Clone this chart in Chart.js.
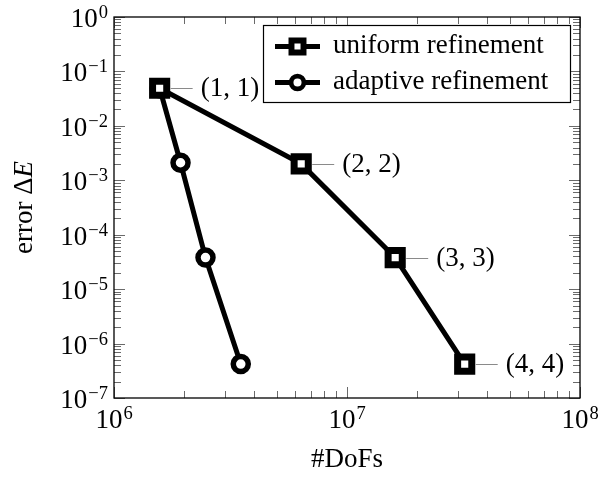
<!DOCTYPE html>
<html>
<head>
<meta charset="utf-8">
<script src="https://cdn.jsdelivr.net/npm/chart.js@4/dist/chart.umd.min.js"></script>
<style>
  html, body { margin: 0; padding: 0; background: #fff; }
  #wrap { width: 603px; height: 477px; }
</style>
</head>
<body>
<div id="wrap"><canvas id="c" width="603" height="477"></canvas></div>
<script>
// Degrees of freedom and energy error for both refinement strategies
const dofsUniform   = [1.57e6, 6.36e6, 1.61e7, 3.2e7];
const errorUniform  = [0.049, 2.0e-3, 3.8e-5, 4.2e-7];
const dofsAdaptive  = [1.57e6, 1.93e6, 2.47e6, 3.5e6];
const errorAdaptive = [0.049, 2.1e-3, 3.8e-5, 4.2e-7];

// Polynomial degree annotations on the uniform series
const uniformPins = ['(1, 1)', '(2, 2)', '(3, 3)', '(4, 4)'];

const seriesNames = ['uniform refinement', 'adaptive refinement'];

// Axis ranges (powers of ten) and titles
const xDecades = [6, 7, 8];
const yDecades = [-7, -6, -5, -4, -3, -2, -1, 0];
const xTitle = '#DoFs';
const yTitleText = 'error Δ';
const yTitleVar = 'E';

const SERIF = '"Liberation Serif", "DejaVu Serif", serif';
const FONT_SIZE = 27;
const SUP_SIZE = 18.5;

// all 1..9 x 10^n values inside [min, max]
function logTicks(min, max) {
  const out = [];
  const lo = Math.floor(Math.log10(min));
  const hi = Math.ceil(Math.log10(max));
  for (let e = lo; e <= hi; e++) {
    for (let m = 1; m <= 9; m++) {
      const v = m * Math.pow(10, e);
      if (v >= min * 0.999999 && v <= max * 1.000001) out.push({ value: v });
    }
  }
  return out;
}

function isDecade(v) {
  const l = Math.log10(v);
  return Math.abs(l - Math.round(l)) < 1e-9;
}

function expText(n) {
  return n < 0 ? '\u2212' + Math.abs(n) : String(n);
}

function toPoints(xs, ys) {
  return xs.map((x, i) => ({ x: x, y: ys[i] }));
}

// inward ticks on all four sides plus the frame
const framePlugin = {
  id: 'frame',
  beforeDatasetsDraw(chart) {
    const ctx = chart.ctx;
    const ca = chart.chartArea;
    const xs = chart.scales.x, ys = chart.scales.y;
    ctx.save();
    ctx.strokeStyle = '#6a6a6a';
    ctx.lineWidth = 1;
    xs.ticks.forEach(t => {
      const px = Math.round(xs.getPixelForValue(t.value)) + 0.5;
      const len = isDecade(t.value) ? 11 : 7;
      ctx.beginPath();
      ctx.moveTo(px, ca.bottom); ctx.lineTo(px, ca.bottom - len);
      ctx.moveTo(px, ca.top); ctx.lineTo(px, ca.top + len);
      ctx.stroke();
    });
    ys.ticks.forEach(t => {
      const py = Math.round(ys.getPixelForValue(t.value)) + 0.5;
      const len = isDecade(t.value) ? 11 : 7;
      ctx.beginPath();
      ctx.moveTo(ca.left, py); ctx.lineTo(ca.left + len, py);
      ctx.moveTo(ca.right, py); ctx.lineTo(ca.right - len, py);
      ctx.stroke();
    });
    ctx.strokeStyle = '#000';
    ctx.lineWidth = 1.3;
    ctx.strokeRect(ca.left, ca.top, ca.right - ca.left, ca.bottom - ca.top);
    ctx.restore();
  },
  afterDraw(chart) {
    const ctx = chart.ctx;
    const ca = chart.chartArea;
    const xs = chart.scales.x, ys = chart.scales.y;
    ctx.save();
    ctx.fillStyle = '#000';
    ctx.textBaseline = 'alphabetic';
    ctx.textAlign = 'left';
    const base = FONT_SIZE + 'px ' + SERIF;
    const sup = SUP_SIZE + 'px ' + SERIF;

    // x tick labels 10^n
    xDecades.forEach(n => {
      const px = xs.getPixelForValue(Math.pow(10, n));
      ctx.font = base; const w1 = ctx.measureText('10').width;
      ctx.font = sup; const e = expText(n); const w2 = ctx.measureText(e).width;
      const x0 = px - (w1 + w2 + 1) / 2;
      const by = ca.bottom + 30;
      ctx.font = base; ctx.fillText('10', x0, by);
      ctx.font = sup; ctx.fillText(e, x0 + w1 + 1, by - 9);
    });

    // y tick labels 10^n
    yDecades.forEach(n => {
      const py = ys.getPixelForValue(Math.pow(10, n));
      ctx.font = sup; const e = expText(n); const w2 = ctx.measureText(e).width;
      ctx.font = base; const w1 = ctx.measureText('10').width;
      const xr = ca.left - 6;
      ctx.fillText('10', xr - w2 - 1 - w1, py + 10);
      ctx.font = sup; ctx.fillText(e, xr - w2, py + 1);
    });

    // x axis title
    ctx.font = base;
    ctx.textAlign = 'center';
    ctx.fillText(xTitle, (ca.left + ca.right) / 2, 467);

    // y axis title, rotated
    ctx.translate(32, (ca.top + ca.bottom) / 2);
    ctx.rotate(-Math.PI / 2);
    ctx.textAlign = 'left';
    ctx.font = base; const wa = ctx.measureText(yTitleText).width;
    ctx.font = 'italic ' + base; const wb = ctx.measureText(yTitleVar).width;
    const sx = -(wa + wb) / 2;
    ctx.font = base; ctx.fillText(yTitleText, sx, 0);
    ctx.font = 'italic ' + base; ctx.fillText(yTitleVar, sx + wa, 0);
    ctx.restore();
  }
};

// pin lines and degree labels next to the uniform markers
const pinPlugin = {
  id: 'pins',
  afterDatasetsDraw(chart) {
    const ctx = chart.ctx;
    const meta = chart.getDatasetMeta(0);
    ctx.save();
    ctx.font = FONT_SIZE + 'px ' + SERIF;
    ctx.textBaseline = 'middle';
    ctx.textAlign = 'left';
    meta.data.forEach((pt, i) => {
      const y = Math.round(pt.y) + 0.5;
      ctx.strokeStyle = '#8a8a8a';
      ctx.lineWidth = 1;
      ctx.beginPath();
      ctx.moveTo(pt.x + 11, y);
      ctx.lineTo(pt.x + 33, y);
      ctx.stroke();
      ctx.fillStyle = '#000';
      ctx.fillText(uniformPins[i], pt.x + 41, pt.y + 1);
    });
    ctx.restore();
  }
};

// boxed legend inside the plot, line sample with marker
const legendBoxPlugin = {
  id: 'legendBox',
  afterDatasetsDraw(chart) {
    const ctx = chart.ctx;
    const ca = chart.chartArea;
    const right = ca.right - 10;
    const left = right - 307;
    const top = ca.top + 8;
    const h = 77;
    ctx.save();
    ctx.fillStyle = '#fff';
    ctx.fillRect(left, top, right - left, h);
    ctx.strokeStyle = '#000';
    ctx.lineWidth = 1.2;
    ctx.strokeRect(Math.round(left) + 0.5, Math.round(top) + 0.5, right - left, h);
    chart.data.datasets.forEach((ds, i) => {
      const cy = top + 21.5 + i * 36;
      const x1 = left + 12, x2 = left + 57, mx = (x1 + x2) / 2;
      ctx.strokeStyle = ds.borderColor;
      ctx.lineWidth = ds.borderWidth;
      ctx.beginPath();
      ctx.moveTo(x1, cy); ctx.lineTo(x2, cy);
      ctx.stroke();
      ctx.fillStyle = ds.pointBackgroundColor;
      ctx.strokeStyle = ds.pointBorderColor;
      ctx.lineWidth = ds.pointBorderWidth * 0.85;
      Chart.helpers.drawPoint(ctx, {
        pointStyle: ds.pointStyle,
        rotation: 0,
        radius: ds.pointRadius * 0.85,
        borderWidth: ds.pointBorderWidth * 0.85
      }, mx, cy);
      ctx.fillStyle = '#000';
      ctx.font = FONT_SIZE + 'px ' + SERIF;
      ctx.textBaseline = 'alphabetic';
      ctx.textAlign = 'left';
      ctx.fillText(ds.label, left + 70, cy + 6);
    });
    ctx.restore();
  }
};

new Chart(document.getElementById('c'), {
  type: 'scatter',
  data: {
    datasets: [
      {
        label: seriesNames[0],
        data: toPoints(dofsUniform, errorUniform),
        showLine: true,
        borderColor: '#000',
        backgroundColor: '#fff',
        borderWidth: 5,
        pointStyle: 'rect',
        pointRadius: 10,
        pointHoverRadius: 10,
        pointBorderWidth: 7,
        pointBackgroundColor: '#fff',
        pointBorderColor: '#000'
      },
      {
        label: seriesNames[1],
        data: toPoints(dofsAdaptive, errorAdaptive),
        showLine: true,
        borderColor: '#000',
        backgroundColor: '#fff',
        borderWidth: 5,
        pointStyle: 'circle',
        pointRadius: 7.5,
        pointHoverRadius: 7.5,
        pointBorderWidth: 5.5,
        pointBackgroundColor: '#fff',
        pointBorderColor: '#000'
      }
    ]
  },
  options: {
    responsive: false,
    devicePixelRatio: 1,
    animation: false,
    events: [],
    layout: { padding: { top: 11, right: 23, left: 0, bottom: 0 } },
    plugins: { legend: { display: false }, tooltip: { enabled: false } },
    scales: {
      x: {
        type: 'logarithmic',
        min: Math.pow(10, xDecades[0]),
        max: Math.pow(10, xDecades[xDecades.length - 1]),
        grid: { display: false },
        border: { display: false },
        ticks: { display: false },
        afterBuildTicks: s => { s.ticks = logTicks(s.min, s.max); },
        afterFit: s => { s.height = 79; }
      },
      y: {
        type: 'logarithmic',
        min: Math.pow(10, yDecades[0]),
        max: Math.pow(10, yDecades[yDecades.length - 1]),
        grid: { display: false },
        border: { display: false },
        ticks: { display: false },
        afterBuildTicks: s => { s.ticks = logTicks(s.min, s.max); },
        afterFit: s => { s.width = 114; }
      }
    }
  },
  plugins: [framePlugin, pinPlugin, legendBoxPlugin]
});
</script>
</body>
</html>
